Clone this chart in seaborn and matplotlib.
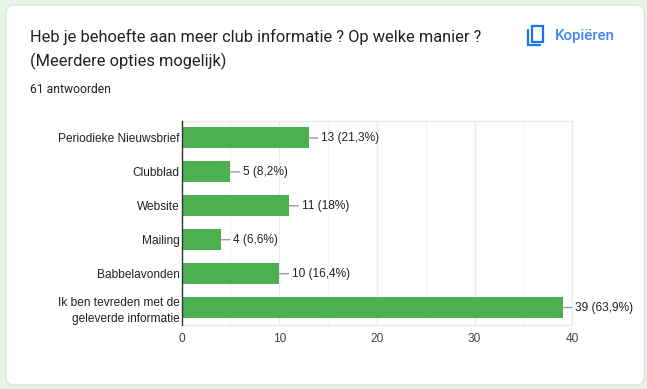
# -*- coding: utf-8 -*-
import matplotlib
matplotlib.use("Agg")
import matplotlib.pyplot as plt
from matplotlib.patches import FancyBboxPatch, Rectangle
from matplotlib.ticker import MultipleLocator
import seaborn as sns

# Data
categories = ["Periodieke Nieuwsbrief", "Clubblad", "Website", "Mailing",
              "Babbelavonden", "Ik ben tevreden met de\ngeleverde informatie"]
counts = [13, 5, 11, 4, 10, 39]
labels = ["13 (21,3%)", "5 (8,2%)", "11 (18%)", "4 (6,6%)", "10 (16,4%)", "39 (63,9%)"]
x_ticks = [0, 10, 20, 30, 40]

W, H = 647, 389
sns.set_theme(style="white")
plt.rcParams["font.family"] = ["Liberation Sans", "DejaVu Sans"]

fig = plt.figure(figsize=(W / 100, H / 100), dpi=100, facecolor="#e8f3e8")

# white card behind everything (pixel coordinates)
bg = fig.add_axes([0, 0, 1, 1], zorder=0)
bg.set_xlim(0, W)
bg.set_ylim(H, 0)
bg.axis("off")
bg.add_patch(FancyBboxPatch((6, 5), 638.5, 380, boxstyle="round,pad=0,rounding_size=8",
                            fc="white", ec="#dfe3e0", lw=1))

# header texts
bg.text(30, 37, "Heb je behoefte aan meer club informatie ? Op welke manier ?",
        family="Roboto", fontsize=11.75, color="#212121", va="center")
bg.text(30, 61, "(Meerdere opties mogelijk)",
        family="Roboto", fontsize=11.75, color="#212121", va="center")
bg.text(30, 89, "61 antwoorden", family="Roboto", fontsize=8.7, color="#212121", va="center")
bg.text(555, 35.5, "Kopiëren", family="Roboto", fontsize=10.8, color="#4285f4",
        va="center", weight="medium")

# copy icon
blue = "#1a73e8"
bg.add_patch(Rectangle((531.5, 26), 11, 15.5, fc="none", ec=blue, lw=1.6))
bg.plot([527.5, 527.5, 540], [30, 45, 45], color=blue, lw=1.6, solid_joinstyle="miter")

# chart
ax = fig.add_axes([181.6 / W, 1 - 324.5 / H, (572.4 - 181.6) / W, (324.5 - 121) / H], zorder=1)
ax.patch.set_alpha(0)
sns.barplot(x=counts, y=categories, orient="h", color="#4caf50", saturation=1,
            width=21 / 34, linewidth=0, ax=ax, zorder=3)
ax.set_xlim(0, 40)
ax.set_ylim(5.5, -0.5)
ax.set_xticks(x_ticks)
ax.xaxis.set_minor_locator(MultipleLocator(5))
ax.grid(which="major", axis="x", color="#ebebeb", lw=1, zorder=0)
ax.grid(which="minor", axis="x", color="#f5f5f5", lw=1, zorder=0)
ax.set_axisbelow(True)
for side in ["top", "bottom", "right"]:
    ax.spines[side].set_color("#ebebeb")
    ax.spines[side].set_linewidth(1)
ax.spines["left"].set_color("#333333")
ax.spines["left"].set_linewidth(1)
ax.spines["left"].set_zorder(5)
ax.tick_params(axis="both", which="both", length=0)
ax.tick_params(axis="x", labelsize=8.6, labelcolor="#444444", pad=6)
ax.tick_params(axis="y", labelsize=8.6, labelcolor="#222222", pad=1.5)
ax.set_xlabel("")
ax.set_ylabel("")
for lab in ax.get_yticklabels():
    lab.set_linespacing(1.45)

# value labels with their small leader lines
for i, (v, txt) in enumerate(zip(counts, labels)):
    ax.annotate(txt, xy=(v, i), xytext=(12.5, 0), textcoords="offset pixels",
                fontsize=8.6, color="#222222", va="center", ha="left", annotation_clip=False,
                arrowprops=dict(arrowstyle="-", color="#999999", lw=1, shrinkA=0, shrinkB=0,
                                relpos=(0, 0.5)))

fig.savefig("out.png", dpi=100, facecolor=fig.get_facecolor())
